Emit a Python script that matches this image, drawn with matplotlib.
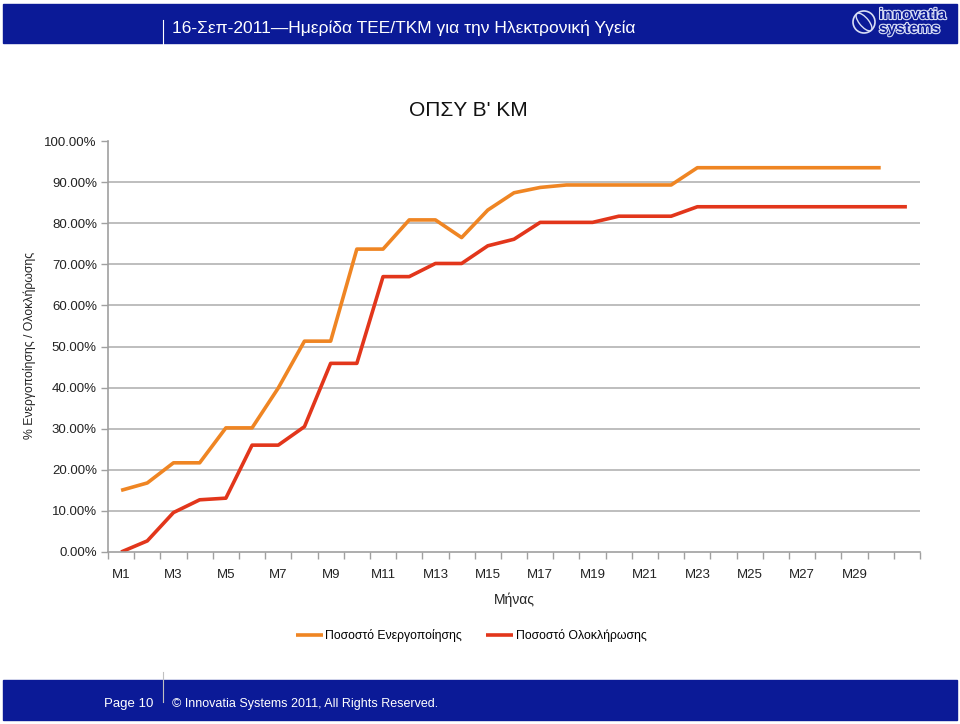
import numpy as np
import matplotlib.pyplot as plt
from matplotlib.patches import Rectangle, Ellipse
from matplotlib.lines import Line2D
from matplotlib.ticker import PercentFormatter, FixedLocator, NullFormatter
import matplotlib.patheffects as pe

plt.rcParams['font.family'] = ['Liberation Sans', 'DejaVu Sans']

# months M1..M31
months = ["M" + str(i) for i in range(1, 32)]

# % activation (30 months), % completion (31 months)
activation = [15.0, 16.8, 21.7, 21.7, 30.2, 30.2, 39.9, 51.3, 51.3, 73.7,
              73.7, 80.8, 80.8, 76.5, 83.2, 87.4, 88.7, 89.3, 89.3, 89.3,
              89.3, 89.3, 93.5, 93.5, 93.5, 93.5, 93.5, 93.5, 93.5, 93.5]
completion = [0.0, 2.7, 9.6, 12.7, 13.1, 26.0, 26.0, 30.5, 45.9, 45.9,
              67.0, 67.0, 70.2, 70.2, 74.5, 76.1, 80.2, 80.2, 80.2, 81.7,
              81.7, 81.7, 84.0, 84.0, 84.0, 84.0, 84.0, 84.0, 84.0, 84.0, 84.0]

series_names = ["Ποσοστό Ενεργοποίησης", "Ποσοστό Ολοκλήρωσης"]
colors = ["#EF8523", "#E2361B"]

navy = "#0B1A97"
W, H = 960, 724

fig = plt.figure(figsize=(9.6, 7.24), dpi=100)

# slide header and footer bars
fig.patches.append(Rectangle((3 / W, 1 - 43 / H), 954 / W, 39 / H,
                             transform=fig.transFigure, color=navy, zorder=0))
fig.patches.append(Rectangle((3 / W, 1 - 720 / H), 954 / W, 40 / H,
                             transform=fig.transFigure, color=navy, zorder=0))
fig.lines.append(Line2D([163 / W, 163 / W], [1 - 20 / H, 1 - 44 / H],
                        transform=fig.transFigure, color="white", lw=0.8))
fig.lines.append(Line2D([163 / W, 163 / W], [1 - 672 / H, 1 - 702 / H],
                        transform=fig.transFigure, color="#c0c0c0", lw=0.8))

fig.text(172 / W, 1 - 28 / H,
         "16-Σεπ-2011—Ημερίδα ΤΕΕ/ΤΚΜ για την Ηλεκτρονική Υγεία",
         color="white", fontsize=12.5, va="center", ha="left")

# logo
fig.patches.append(Ellipse((864 / W, 1 - 22 / H), 22 / W, 22 / H,
                           transform=fig.transFigure, fill=False,
                           ec="#d8def5", lw=1.2))
fig.patches.append(Ellipse((864 / W, 1 - 22 / H), 10 / W, 20 / H, angle=30,
                           transform=fig.transFigure, fill=False,
                           ec="#d8def5", lw=1.0))
for txt, yy in [("innovatia", 15), ("systems", 29)]:
    fig.text(879 / W, 1 - yy / H, txt, color=navy, fontsize=11, weight="bold",
             va="center", ha="left",
             path_effects=[pe.withStroke(linewidth=1.6, foreground="#d8def5")])

fig.text(153 / W, 1 - 704 / H, "Page 10", color="white", fontsize=9.5,
         ha="right", va="center")
fig.text(172 / W, 1 - 704 / H, "© Innovatia Systems 2011, All Rights Reserved.",
         color="white", fontsize=9, ha="left", va="center")

# chart
ax = fig.add_axes([108 / W, 1 - 552 / H, 812 / W, 411 / H])
x = np.arange(len(months))
ax.plot(x[:len(activation)], activation, color=colors[0], lw=2.6,
        solid_joinstyle="round", solid_capstyle="butt", label=series_names[0])
ax.plot(x[:len(completion)], completion, color=colors[1], lw=2.6,
        solid_joinstyle="round", solid_capstyle="butt", label=series_names[1])

ax.set_xlim(-0.5, len(months) - 0.5)
ax.set_ylim(0, 100)
ax.set_yticks(np.arange(0, 101, 10))
ax.yaxis.set_major_formatter(PercentFormatter(xmax=100, decimals=2))
for yv in range(10, 100, 10):
    ax.axhline(yv, color="#b3b3b3", lw=1.2, zorder=0)

# every other month labelled, last one (M31) left without label
ax.set_xticks(x[:-1:2])
ax.set_xticklabels(months[:-1:2])
ax.xaxis.set_minor_locator(FixedLocator(np.arange(-0.5, len(months), 1)))
ax.xaxis.set_minor_formatter(NullFormatter())
ax.tick_params(axis="x", which="major", length=0, pad=12, labelsize=9.5,
               labelcolor="#222222")
ax.tick_params(axis="x", which="minor", length=5, color="#a0a0a0", width=1)
ax.tick_params(axis="y", length=5, color="#a0a0a0", width=1, pad=3,
               labelsize=9.5, labelcolor="#222222")

for s in ["top", "right"]:
    ax.spines[s].set_visible(False)
ax.spines["left"].set_color("#a0a0a0")
ax.spines["bottom"].set_color("#a0a0a0")
ax.spines["left"].set_linewidth(1.2)
ax.spines["bottom"].set_linewidth(1.2)

fig.text(468 / W, 1 - 110 / H, "ΟΠΣΥ Β' ΚΜ", fontsize=15, ha="center",
         va="center", color="#111111")
fig.text(514 / W, 1 - 600 / H, "Μήνας", fontsize=10, ha="center",
         va="center", color="#222222")
fig.text(30 / W, 1 - 345 / H, "% Ενεργοποίησης / Ολοκλήρωσης", fontsize=8.8,
         rotation=90, ha="center", va="center", color="#222222")

fig.legend(loc="center", bbox_to_anchor=(471 / W, 1 - 636 / H), ncol=2,
           frameon=False, fontsize=8.8, handlelength=2.2, handletextpad=0.2,
           columnspacing=2.0)

fig.savefig("out.png", dpi=100)
